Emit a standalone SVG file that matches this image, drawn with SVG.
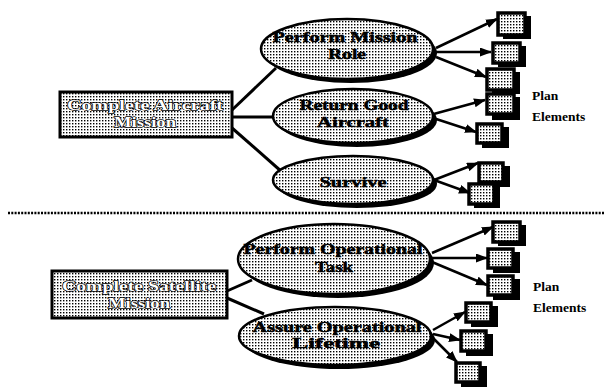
<svg xmlns="http://www.w3.org/2000/svg" width="604" height="389" viewBox="0 0 604 389">
<defs>
<pattern id="st" width="3" height="3" patternUnits="userSpaceOnUse">
<rect width="3" height="3" fill="#fff"/>
<rect width="1.4" height="1.4" fill="#000"/>
</pattern>
<marker id="ah" markerWidth="12" markerHeight="9" refX="11" refY="4.5" orient="auto" markerUnits="userSpaceOnUse">
<path d="M0,0 L12,4.5 L0,9 Z" fill="#000"/>
</marker>
<style>
.sh{fill:#000}
.node{fill:url(#st);stroke:#000;stroke-width:2.5}
.box{fill:url(#st);stroke:#000;stroke-width:3}
.sq{fill:url(#st);stroke:#000;stroke-width:3.5}
.et{font-family:"Liberation Serif",serif;font-weight:bold;font-size:15px;fill:#000;stroke:#000;stroke-width:0.5;text-anchor:middle}
.bt{font-family:"Liberation Serif",serif;font-weight:bold;font-size:15px;fill:#fff;stroke:#000;stroke-width:1.3;paint-order:stroke;text-anchor:middle}
.lab{font-family:"Liberation Serif",serif;font-weight:bold;font-size:13.5px;fill:#000}
.ln{stroke:#000;stroke-width:3;fill:none}
.ar{stroke:#000;stroke-width:2.5;fill:none;marker-end:url(#ah)}
</style>
</defs>
<rect width="604" height="389" fill="#fff"/>

<g id="connectors">
<line class="ln" x1="232" y1="110" x2="276" y2="68"/>
<line class="ln" x1="232" y1="117" x2="274" y2="117"/>
<line class="ln" x1="232" y1="128" x2="282" y2="172"/>
<line class="ln" x1="227" y1="291" x2="252" y2="280"/>
<line class="ln" x1="227" y1="298" x2="264" y2="314"/>
<line class="ar" x1="436" y1="48" x2="497" y2="19"/>
<line class="ar" x1="436" y1="52" x2="491" y2="52"/>
<line class="ar" x1="436" y1="57" x2="486" y2="77"/>
<line class="ar" x1="430" y1="115" x2="485" y2="100"/>
<line class="ar" x1="430" y1="117" x2="476" y2="132"/>
<line class="ar" x1="434" y1="180" x2="478" y2="163"/>
<line class="ar" x1="434" y1="180" x2="470" y2="193"/>
<line class="ar" x1="432" y1="253" x2="493" y2="227"/>
<line class="ar" x1="432" y1="258" x2="487" y2="258"/>
<line class="ar" x1="432" y1="262" x2="487" y2="285"/>
<line class="ar" x1="433" y1="330" x2="465" y2="312"/>
<line class="ar" x1="433" y1="334" x2="460" y2="340"/>
<line class="ar" x1="433" y1="338" x2="457" y2="362"/>
</g>

<line x1="8" y1="213" x2="604" y2="213" stroke="#000" stroke-width="2.5" stroke-dasharray="2 1.3"/>

<g id="n-aircraft">
<rect class="box" x="60" y="92" width="172" height="45"/>
<text class="bt" x="145" y="110" textLength="156" lengthAdjust="spacingAndGlyphs">Complete Aircraft</text>
<text class="bt" x="145" y="127" textLength="62" lengthAdjust="spacingAndGlyphs">Mission</text>
</g>
<g id="n-role">
<ellipse class="sh" cx="351" cy="53" rx="86" ry="30"/>
<ellipse class="node" cx="347" cy="49" rx="86" ry="30"/>
<text class="et" x="345" y="42" textLength="145" lengthAdjust="spacingAndGlyphs">Perform Mission</text>
<text class="et" x="347" y="59" textLength="38" lengthAdjust="spacingAndGlyphs">Role</text>
</g>
<g id="n-return">
<ellipse class="sh" cx="357" cy="120" rx="80" ry="27"/>
<ellipse class="node" cx="353" cy="116" rx="80" ry="27"/>
<text class="et" x="354" y="110" textLength="109" lengthAdjust="spacingAndGlyphs">Return Good</text>
<text class="et" x="353" y="127" textLength="72" lengthAdjust="spacingAndGlyphs">Aircraft</text>
</g>
<g id="n-survive">
<ellipse class="sh" cx="357" cy="184" rx="80" ry="24"/>
<ellipse class="node" cx="353" cy="180" rx="80" ry="24"/>
<text class="et" x="353" y="187" textLength="67" lengthAdjust="spacingAndGlyphs">Survive</text>
</g>

<g id="n-satellite">
<rect class="box" x="52" y="271" width="175" height="47"/>
<text class="bt" x="139" y="291" textLength="154" lengthAdjust="spacingAndGlyphs">Complete Satellite</text>
<text class="bt" x="139" y="308" textLength="62" lengthAdjust="spacingAndGlyphs">Mission</text>
</g>
<g id="n-task">
<ellipse class="sh" cx="338" cy="263" rx="96" ry="35"/>
<ellipse class="node" cx="334" cy="259" rx="96" ry="35"/>
<text class="et" x="333" y="254" textLength="179" lengthAdjust="spacingAndGlyphs">Perform Operational</text>
<text class="et" x="334" y="272" textLength="38" lengthAdjust="spacingAndGlyphs">Task</text>
</g>
<g id="n-lifetime">
<ellipse class="sh" cx="339" cy="340" rx="96" ry="29"/>
<ellipse class="node" cx="335" cy="336" rx="96" ry="29"/>
<text class="et" x="337" y="332" textLength="169" lengthAdjust="spacingAndGlyphs">Assure Operational</text>
<text class="et" x="336" y="348" textLength="88" lengthAdjust="spacingAndGlyphs">Lifetime</text>
</g>

<g id="plan-elements">
<rect class="sh" x="503" y="16" width="28" height="23"/><rect class="sq" x="498" y="13" width="27" height="22"/>
<rect class="sh" x="498" y="46" width="28" height="21"/><rect class="sq" x="493" y="43" width="27" height="20"/>
<rect class="sh" x="492" y="72" width="28" height="22"/><rect class="sq" x="487" y="69" width="27" height="21"/>
<rect class="sh" x="492" y="97" width="28" height="23"/><rect class="sq" x="487" y="94" width="27" height="20"/>
<rect class="sh" x="482" y="127" width="27" height="21"/><rect class="sq" x="477" y="124" width="25" height="19"/>
<rect class="sh" x="484" y="166" width="26" height="21"/><rect class="sq" x="479" y="163" width="24" height="19"/>
<rect class="sh" x="474" y="187" width="26" height="21"/><rect class="sq" x="469" y="184" width="25" height="20"/>

<rect class="sh" x="498" y="225" width="28" height="21"/><rect class="sq" x="493" y="222" width="27" height="20"/>
<rect class="sh" x="493" y="252" width="27" height="21"/><rect class="sq" x="488" y="249" width="25" height="19"/>
<rect class="sh" x="493" y="279" width="27" height="21"/><rect class="sq" x="488" y="276" width="25" height="19"/>
<rect class="sh" x="471" y="306" width="27" height="21"/><rect class="sq" x="466" y="303" width="25" height="19"/>
<rect class="sh" x="466" y="334" width="27" height="22"/><rect class="sq" x="461" y="331" width="25" height="20"/>
<rect class="sh" x="461" y="366" width="26" height="21"/><rect class="sq" x="456" y="363" width="24" height="19"/>
</g>

<g id="labels">
<text class="lab" x="532" y="100">Plan</text>
<text class="lab" x="532" y="121">Elements</text>
<text class="lab" x="533" y="291">Plan</text>
<text class="lab" x="533" y="312">Elements</text>
</g>
</svg>
